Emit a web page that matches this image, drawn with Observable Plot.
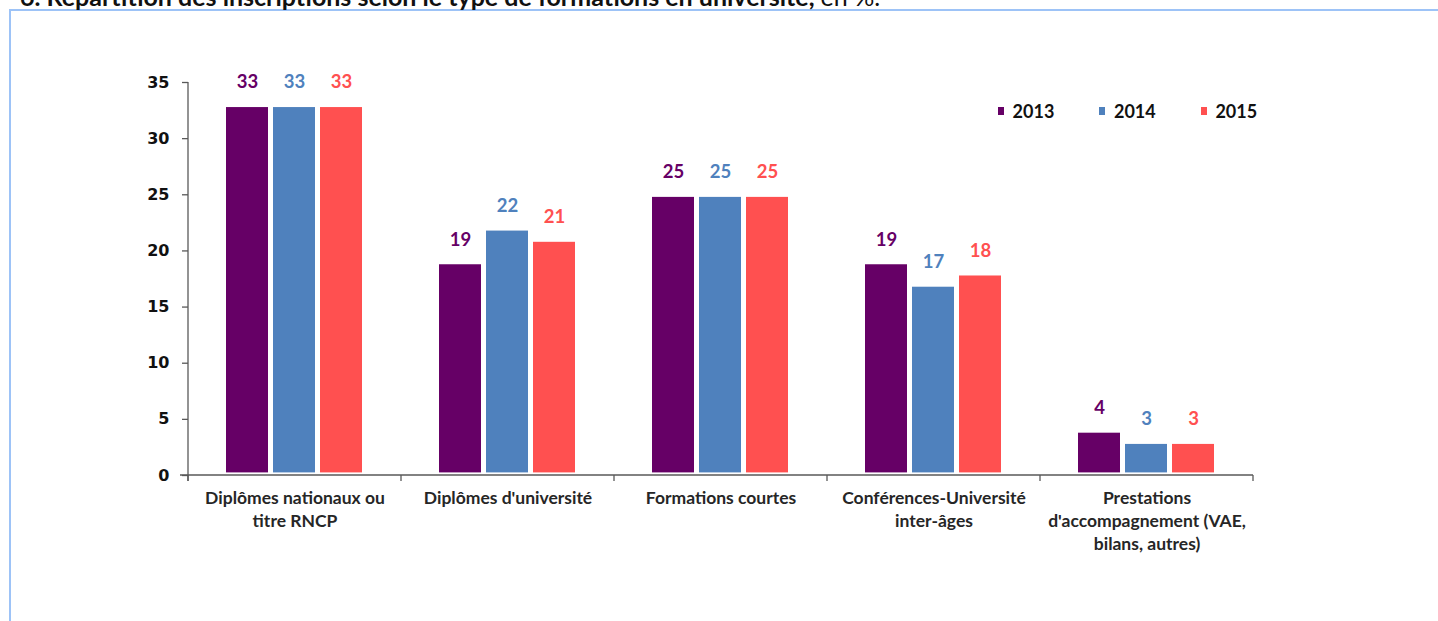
<!DOCTYPE html>
<html>
<head>
<meta charset="utf-8">
<script src="https://cdn.jsdelivr.net/npm/d3@7"></script>
<script src="https://cdn.jsdelivr.net/npm/@observablehq/plot@0.6"></script>
<style>
  html, body { margin: 0; padding: 0; background: #fff; }
  #wrap { position: relative; width: 1438px; height: 621px; overflow: hidden; background: #fff; }
  #frame { position: absolute; left: 9px; top: 9px; width: 1500px; height: 700px;
           border-top: 2px solid #9DC3F7; border-left: 2px solid #9DC3F7; }
  #title { position: absolute; left: 20px; top: -16.5px; line-height: 25px; font-size: 25px;
           font-family: Lato, "Open Sans", sans-serif; font-weight: bold; color: #111; white-space: nowrap; }
  #title span { font-weight: normal; }
  #chart { position: absolute; left: 0; top: 0; }
  #legend { position: absolute; left: 998px; top: 100px; display: flex;
            font-family: Lato, "Open Sans", sans-serif; font-weight: bold; font-size: 18px; color: #111; }
  .item { width: 101.4px; display: flex; align-items: center; height: 22px; }
  .sw { width: 6px; height: 8px; margin-right: 8.6px; }
</style>
</head>
<body>
<div id="wrap">
  <div id="frame"></div>
  <div id="title">6. Répartition des inscriptions selon le type de formations en université, <span>en %.</span></div>
  <div id="chart"></div>
  <div id="legend"></div>
</div>
<script>
const categories = [
  "Diplômes nationaux ou\ntitre RNCP",
  "Diplômes d'université",
  "Formations courtes",
  "Conférences-Université\ninter-âges",
  "Prestations\nd'accompagnement (VAE,\nbilans, autres)"
];
const years = ["2013", "2014", "2015"];
const values2013 = [33, 19, 25, 19, 4];
const values2014 = [33, 22, 25, 17, 3];
const values2015 = [33, 21, 25, 18, 3];
const colors = ["#660066", "#4F81BD", "#FF5050"];
const yTicks = [0, 5, 10, 15, 20, 25, 30, 35];

const series = [values2013, values2014, values2015];
const data = categories.flatMap((c, i) =>
  years.map((y, j) => ({category: c, year: y, value: series[j][i]}))
);

const plot = Plot.plot({
  width: 1438,
  height: 621,
  marginLeft: 186,
  marginRight: 184,
  marginTop: 82,
  marginBottom: 146,
  style: {background: "transparent", overflow: "visible"},
  fx: {domain: categories, padding: 0, label: null, axis: null},
  x: {domain: years, paddingInner: 0.0985, paddingOuter: 0.788, axis: null},
  y: {domain: [0, 35], axis: null},
  color: {domain: years, range: colors},
  marks: [
    Plot.barY(data, {fx: "category", x: "year", y: "value", fill: "year", insetTop: 2.6, insetBottom: 2.6}),
    Plot.text(data, {fx: "category", x: "year", y: "value", text: d => String(d.value), fill: "year",
      dy: -22.5, fontSize: 18.5, fontWeight: "bold", fontFamily: "Lato, 'Open Sans', sans-serif"}),
    Plot.axisY({ticks: yTicks, tickSize: 6, tickPadding: 13, fontSize: 16, fontWeight: "bold",
      fontFamily: "'DejaVu Sans', Verdana, sans-serif", stroke: "#595959", strokeWidth: 1.3, fill: "#111", label: null}),
    Plot.axisFx({anchor: "bottom", tickSize: 0, tickPadding: 12, fontSize: 17.5, fontWeight: "bold",
      fontFamily: "Lato, 'Open Sans', sans-serif", fill: "#262626", lineHeight: 1.32, label: null})
  ]
});
document.getElementById("chart").appendChild(plot);

// axis lines and category boundary ticks, positioned through the plot's own scales
const fx = plot.scale("fx");
const ys = plot.scale("y");
const svg = d3.select(plot);
const y0 = ys.apply(0), yTop = ys.apply(35);
const left = fx.apply(categories[0]);
const right = fx.apply(categories[categories.length - 1]) + fx.bandwidth;
const g = svg.append("g").attr("stroke", "#595959").attr("stroke-width", 1.3);
g.append("line").attr("x1", left).attr("x2", left).attr("y1", yTop).attr("y2", y0 + 6);
g.append("line").attr("x1", left - 8).attr("x2", right).attr("y1", y0).attr("y2", y0);
const edges = categories.map(c => fx.apply(c)).concat([right]);
edges.forEach(x => g.append("line").attr("x1", x).attr("x2", x).attr("y1", y0).attr("y2", y0 + 6));

// legend
const legend = d3.select("#legend");
years.forEach((y, i) => {
  const it = legend.append("div").attr("class", "item");
  it.append("div").attr("class", "sw").style("background", colors[i]);
  it.append("span").text(y);
});
</script>
</body>
</html>
